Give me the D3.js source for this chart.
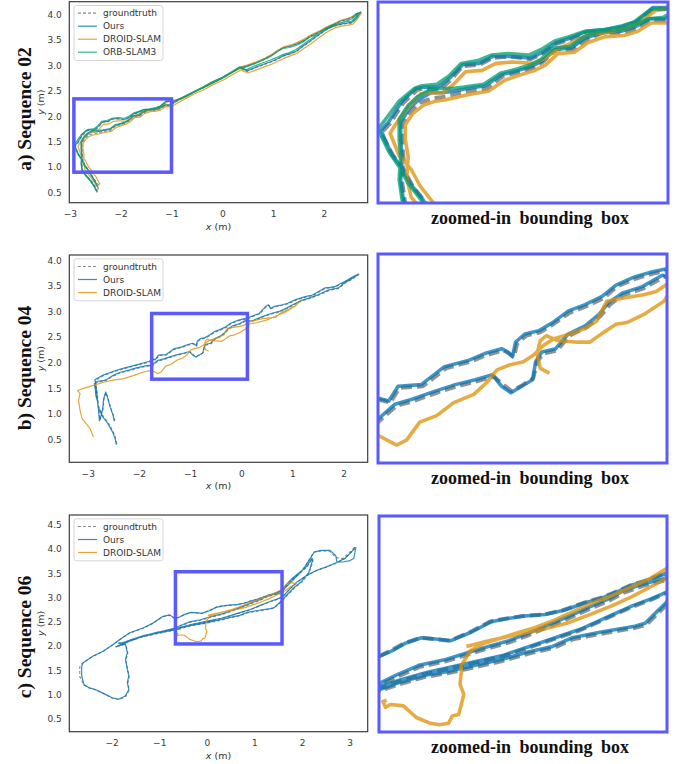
<!DOCTYPE html>
<html>
<head>
<meta charset="utf-8">
<script src="https://cdn.jsdelivr.net/npm/d3@7"></script>
<style>
  body { margin: 0; background: #fff; }
  text { font-family: "DejaVu Sans", sans-serif; }
</style>
</head>
<body>
<script>
// legend names, in plotting order
var methods = ['groundtruth', 'Ours', 'DROID-SLAM', 'ORB-SLAM3'];

// ---------- Sequence 02 ----------
var seq02_xticks = [-3, -2, -1, 0, 1, 2];
var seq02_yticks = [0.5, 1.0, 1.5, 2.0, 2.5, 3.0, 3.5, 4.0];
var seq02_box = [-2.92, -1.0, 0.9, 2.34]; // x0, x1, y0, y1

var seq02_gt = [[-2.45,0.52],[-2.50,0.62],[-2.57,0.72],[-2.66,0.82],[-2.74,0.90],[-2.76,1.05],[-2.75,1.21],[-2.76,1.35],[-2.76,1.47],[-2.70,1.56],[-2.64,1.62],[-2.56,1.65],[-2.49,1.66],[-2.41,1.68],[-2.33,1.70],[-2.20,1.72],[-2.09,1.81],[-1.98,1.84],[-1.89,1.87],[-1.83,1.91],[-1.74,2.00],[-1.63,2.00],[-1.54,2.07],[-1.43,2.12],[-1.30,2.12],[-1.21,2.15],[-1.12,2.21],[-1.02,2.21],[-0.90,2.29],[-0.70,2.40],[-0.52,2.49],[-0.38,2.55],[-0.20,2.65],[0.02,2.75],[0.20,2.86],[0.35,2.95],[0.48,2.88],[0.65,2.95],[0.81,3.01],[0.95,3.06],[1.07,3.11],[1.20,3.18],[1.33,3.22],[1.46,3.27],[1.60,3.38],[1.73,3.47],[1.88,3.58],[2.05,3.70],[2.18,3.76],[2.32,3.80],[2.45,3.82],[2.55,3.83],[2.64,3.93],[2.72,4.05],
  [2.62,4.00],[2.55,3.93],[2.42,3.89],[2.32,3.86],[2.18,3.79],[2.05,3.73],[1.90,3.65],[1.73,3.57],[1.60,3.48],[1.46,3.41],[1.33,3.37],[1.20,3.34],[1.08,3.27],[0.95,3.18],[0.81,3.11],[0.65,3.04],[0.48,2.98],[0.35,2.95],[0.18,2.85],[0.02,2.76],[-0.18,2.66],[-0.38,2.56],[-0.55,2.47],[-0.72,2.38],[-0.90,2.31],[-1.02,2.29],[-1.10,2.29],[-1.21,2.19],[-1.30,2.15],[-1.43,2.13],[-1.54,2.12],[-1.65,2.07],[-1.74,2.04],[-1.83,1.97],[-1.91,1.93],[-2.05,1.95],[-2.16,1.94],[-2.25,1.89],[-2.36,1.88],[-2.44,1.78],[-2.51,1.71],[-2.62,1.72],[-2.66,1.71],[-2.75,1.62],[-2.84,1.47],[-2.90,1.40],[-2.82,1.24],[-2.75,1.14],[-2.69,1.02],[-2.61,0.91],[-2.53,0.78],[-2.46,0.68],[-2.42,0.64]];

var seq02_ours = [[-2.46,0.50],[-2.51,0.61],[-2.58,0.72],[-2.67,0.83],[-2.75,0.91],[-2.77,1.06],[-2.76,1.22],[-2.77,1.36],[-2.77,1.48],[-2.71,1.58],[-2.65,1.64],[-2.57,1.69],[-2.50,1.69],[-2.42,1.70],[-2.33,1.72],[-2.21,1.74],[-2.10,1.82],[-1.99,1.85],[-1.90,1.88],[-1.83,1.92],[-1.75,2.00],[-1.64,2.01],[-1.55,2.08],[-1.44,2.12],[-1.31,2.13],[-1.22,2.16],[-1.12,2.22],[-1.02,2.22],[-0.90,2.30],[-0.70,2.40],[-0.52,2.50],[-0.38,2.56],[-0.20,2.66],[0.02,2.76],[0.20,2.87],[0.35,2.96],[0.49,2.89],[0.65,2.96],[0.81,3.02],[0.95,3.07],[1.07,3.12],[1.20,3.19],[1.33,3.23],[1.46,3.28],[1.60,3.39],[1.73,3.48],[1.88,3.59],[2.05,3.71],[2.18,3.77],[2.32,3.81],[2.45,3.83],[2.56,3.85],[2.65,3.94],[2.72,4.04],
  [2.63,4.01],[2.55,3.95],[2.43,3.90],[2.32,3.87],[2.18,3.80],[2.05,3.74],[1.90,3.66],[1.73,3.58],[1.60,3.49],[1.46,3.42],[1.33,3.38],[1.20,3.35],[1.08,3.28],[0.95,3.19],[0.81,3.12],[0.65,3.05],[0.48,2.99],[0.35,2.96],[0.18,2.86],[0.02,2.77],[-0.18,2.67],[-0.38,2.57],[-0.55,2.48],[-0.72,2.39],[-0.90,2.32],[-1.02,2.30],[-1.10,2.30],[-1.21,2.20],[-1.30,2.17],[-1.43,2.14],[-1.54,2.13],[-1.65,2.08],[-1.74,2.05],[-1.83,1.98],[-1.91,1.94],[-2.05,1.95],[-2.16,1.95],[-2.25,1.90],[-2.36,1.89],[-2.44,1.80],[-2.52,1.73],[-2.62,1.73],[-2.67,1.72],[-2.76,1.63],[-2.85,1.48],[-2.90,1.42],[-2.83,1.25],[-2.76,1.15],[-2.70,1.03],[-2.62,0.92],[-2.54,0.78],[-2.47,0.66],[-2.44,0.58]];

var seq02_droid = [[-2.43,0.56],[-2.48,0.65],[-2.55,0.75],[-2.63,0.85],[-2.70,0.94],[-2.73,1.08],[-2.72,1.23],[-2.74,1.36],[-2.74,1.46],[-2.69,1.54],[-2.62,1.60],[-2.54,1.63],[-2.47,1.64],[-2.39,1.66],[-2.31,1.68],[-2.19,1.70],[-2.08,1.78],[-1.97,1.82],[-1.88,1.85],[-1.81,1.89],[-1.73,1.97],[-1.62,1.98],[-1.53,2.05],[-1.42,2.09],[-1.29,2.10],[-1.20,2.13],[-1.11,2.19],[-1.00,2.19],[-0.88,2.26],[-0.68,2.37],[-0.50,2.46],[-0.36,2.52],[-0.18,2.62],[0.04,2.72],[0.22,2.83],[0.37,2.91],[0.50,2.85],[0.67,2.91],[0.83,2.97],[0.97,3.02],[1.09,3.08],[1.22,3.14],[1.35,3.19],[1.48,3.24],[1.62,3.34],[1.75,3.43],[1.90,3.54],[2.07,3.66],[2.20,3.73],[2.34,3.77],[2.47,3.79],[2.57,3.81],[2.66,3.91],[2.74,4.03],
  [2.65,3.98],[2.57,3.96],[2.45,3.92],[2.34,3.89],[2.20,3.82],[2.07,3.76],[1.92,3.68],[1.75,3.60],[1.62,3.52],[1.48,3.45],[1.35,3.40],[1.22,3.37],[1.10,3.30],[0.97,3.21],[0.83,3.14],[0.67,3.07],[0.50,3.01],[0.37,2.97],[0.20,2.87],[0.04,2.78],[-0.16,2.68],[-0.36,2.58],[-0.53,2.49],[-0.70,2.40],[-0.88,2.32],[-1.00,2.29],[-1.08,2.28],[-1.19,2.19],[-1.28,2.15],[-1.41,2.12],[-1.52,2.11],[-1.63,2.05],[-1.72,2.01],[-1.81,1.94],[-1.89,1.90],[-2.03,1.91],[-2.14,1.90],[-2.23,1.85],[-2.34,1.84],[-2.42,1.75],[-2.49,1.69],[-2.60,1.69],[-2.64,1.68],[-2.72,1.59],[-2.80,1.47],[-2.84,1.40],[-2.78,1.24],[-2.70,1.14],[-2.64,1.02],[-2.56,0.91],[-2.48,0.80],[-2.43,0.70],[-2.40,0.66]];

var seq02_orb = [[-2.48,0.53],[-2.53,0.63],[-2.60,0.73],[-2.69,0.83],[-2.76,0.92],[-2.78,1.07],[-2.77,1.22],[-2.78,1.36],[-2.78,1.50],[-2.72,1.60],[-2.66,1.66],[-2.58,1.71],[-2.51,1.72],[-2.43,1.72],[-2.35,1.73],[-2.22,1.75],[-2.11,1.83],[-2.00,1.86],[-1.91,1.89],[-1.84,1.93],[-1.76,2.01],[-1.65,2.02],[-1.56,2.09],[-1.45,2.13],[-1.32,2.14],[-1.23,2.17],[-1.13,2.22],[-1.03,2.23],[-0.91,2.31],[-0.71,2.41],[-0.53,2.50],[-0.39,2.57],[-0.21,2.67],[0.01,2.77],[0.19,2.88],[0.34,2.97],[0.47,2.91],[0.64,2.99],[0.80,3.05],[0.94,3.10],[1.06,3.15],[1.19,3.21],[1.32,3.25],[1.45,3.31],[1.59,3.41],[1.72,3.50],[1.87,3.61],[2.04,3.73],[2.17,3.79],[2.31,3.83],[2.44,3.86],[2.55,3.87],[2.63,3.95],[2.70,4.03],
  [2.62,3.98],[2.54,3.91],[2.41,3.86],[2.31,3.83],[2.17,3.77],[2.04,3.71],[1.89,3.63],[1.72,3.55],[1.59,3.46],[1.45,3.39],[1.32,3.35],[1.19,3.33],[1.07,3.26],[0.94,3.17],[0.80,3.10],[0.64,3.03],[0.47,2.97],[0.34,2.94],[0.17,2.85],[0.01,2.75],[-0.19,2.65],[-0.39,2.55],[-0.56,2.47],[-0.73,2.38],[-0.91,2.30],[-1.03,2.29],[-1.11,2.29],[-1.22,2.20],[-1.31,2.16],[-1.44,2.14],[-1.55,2.13],[-1.66,2.09],[-1.75,2.06],[-1.84,2.00],[-1.92,1.96],[-2.06,1.97],[-2.17,1.96],[-2.26,1.92],[-2.37,1.90],[-2.45,1.81],[-2.53,1.75],[-2.63,1.74],[-2.68,1.72],[-2.78,1.63],[-2.87,1.50],[-2.92,1.43],[-2.85,1.27],[-2.78,1.16],[-2.72,1.04],[-2.64,0.93],[-2.56,0.80],[-2.49,0.68],[-2.46,0.62]];

// ---------- Sequence 04 ----------
var seq04_xticks = [-3, -2, -1, 0, 1, 2];
var seq04_yticks = [0.5, 1.0, 1.5, 2.0, 2.5, 3.0, 3.5, 4.0];
var seq04_box = [-1.75, 0.12, 1.68, 2.96];

var seq04_gt = [[-2.43,0.42],[-2.46,0.55],[-2.50,0.65],[-2.56,0.76],[-2.62,0.86],[-2.70,0.96],[-2.74,1.05],[-2.79,1.15],[-2.80,1.26],[-2.83,1.36],[-2.84,1.46],[-2.86,1.58],[-2.80,1.63],[-2.69,1.64],[-2.63,1.66],[-2.50,1.74],[-2.37,1.80],[-2.17,1.85],[-2.04,1.89],[-1.91,1.92],[-1.80,1.94],[-1.75,1.93],[-1.63,2.03],[-1.52,2.06],[-1.37,2.11],[-1.24,2.15],[-1.11,2.18],[-1.00,2.21],[-0.94,2.16],[-0.885,2.12],[-0.81,2.16],[-0.745,2.20],[-0.72,2.30],[-0.68,2.35],[-0.59,2.37],[-0.51,2.46],[-0.40,2.51],[-0.31,2.58],[-0.25,2.65],[-0.16,2.71],[-0.03,2.75],[0.10,2.82],[0.20,2.80],[0.42,2.89],[0.59,2.95],[0.75,2.99],[0.90,3.06],[1.07,3.15],[1.20,3.21],[1.33,3.25],[1.52,3.32],[1.72,3.41],[1.91,3.45],[2.04,3.56],[2.16,3.62],[2.30,3.72],
  [2.18,3.66],[2.04,3.58],[1.85,3.48],[1.75,3.46],[1.65,3.45],[1.52,3.38],[1.40,3.31],[1.26,3.28],[1.07,3.22],[0.92,3.15],[0.81,3.12],[0.66,3.09],[0.58,3.05],[0.54,3.12],[0.48,3.08],[0.36,2.95],[0.22,2.90],[0.13,2.86],[0.03,2.84],[-0.08,2.81],[-0.205,2.76],[-0.29,2.69],[-0.40,2.64],[-0.51,2.60],[-0.615,2.53],[-0.70,2.48],[-0.79,2.46],[-0.85,2.41],[-0.87,2.33],[-0.90,2.35],[-0.94,2.37],[-1.05,2.34],[-1.155,2.30],[-1.31,2.26],[-1.46,2.15],[-1.61,2.14],[-1.67,2.05],[-1.75,2.07],[-1.78,2.02],[-2.04,1.95],[-2.30,1.88],[-2.50,1.82],[-2.69,1.75],[-2.85,1.66],[-2.82,1.46],[-2.80,1.27],[-2.78,1.07],[-2.76,0.88],[-2.74,0.95],[-2.70,1.10],[-2.68,1.30],[-2.64,1.42],[-2.60,1.30],[-2.55,1.12],[-2.50,0.98],[-2.47,0.87]];

var seq04_ours = [[-2.44,0.40],[-2.47,0.54],[-2.51,0.64],[-2.57,0.75],[-2.63,0.85],[-2.71,0.95],[-2.75,1.04],[-2.80,1.14],[-2.81,1.25],[-2.84,1.35],[-2.85,1.46],[-2.87,1.59],[-2.81,1.64],[-2.70,1.65],[-2.64,1.67],[-2.51,1.75],[-2.38,1.81],[-2.18,1.86],[-2.05,1.90],[-1.92,1.93],[-1.81,1.95],[-1.76,1.94],[-1.64,2.04],[-1.53,2.07],[-1.38,2.12],[-1.25,2.16],[-1.12,2.19],[-1.01,2.22],[-0.95,2.15],[-0.89,2.11],[-0.82,2.15],[-0.75,2.19],[-0.73,2.30],[-0.69,2.36],[-0.60,2.38],[-0.52,2.47],[-0.41,2.52],[-0.32,2.59],[-0.26,2.66],[-0.17,2.72],[-0.04,2.76],[0.09,2.83],[0.19,2.81],[0.41,2.90],[0.58,2.96],[0.74,3.00],[0.89,3.07],[1.06,3.16],[1.19,3.22],[1.32,3.26],[1.51,3.33],[1.71,3.42],[1.90,3.46],[2.03,3.57],[2.15,3.63],[2.29,3.73],
  [2.17,3.67],[2.03,3.59],[1.84,3.49],[1.74,3.47],[1.64,3.46],[1.51,3.39],[1.39,3.32],[1.25,3.29],[1.06,3.23],[0.91,3.16],[0.80,3.13],[0.65,3.10],[0.57,3.06],[0.53,3.13],[0.47,3.09],[0.35,2.96],[0.21,2.91],[0.12,2.87],[0.02,2.85],[-0.09,2.82],[-0.21,2.77],[-0.30,2.70],[-0.41,2.65],[-0.52,2.61],[-0.62,2.54],[-0.71,2.49],[-0.80,2.47],[-0.86,2.42],[-0.88,2.33],[-0.91,2.36],[-0.95,2.38],[-1.06,2.35],[-1.16,2.31],[-1.32,2.27],[-1.47,2.16],[-1.62,2.15],[-1.68,2.06],[-1.76,2.08],[-1.79,2.03],[-2.05,1.96],[-2.31,1.89],[-2.51,1.83],[-2.70,1.76],[-2.86,1.67],[-2.83,1.47],[-2.81,1.28],[-2.79,1.08],[-2.77,0.87],[-2.75,0.94],[-2.71,1.09],[-2.69,1.29],[-2.65,1.43],[-2.61,1.31],[-2.56,1.13],[-2.51,0.99],[-2.48,0.86]];

var seq04_droid = [[-2.89,0.55],[-2.95,0.71],[-3.05,0.84],[-3.11,0.91],[-3.15,1.07],[-3.18,1.27],[-3.15,1.40],[-3.20,1.46],[-3.05,1.51],[-2.89,1.56],[-2.69,1.62],[-2.50,1.66],[-2.30,1.69],[-2.11,1.75],[-1.91,1.82],[-1.75,1.85],[-1.63,1.79],[-1.565,1.82],[-1.48,1.93],[-1.37,1.97],[-1.26,2.05],[-1.13,2.10],[-1.05,2.17],[-0.98,2.25],[-0.90,2.28],[-0.81,2.30],[-0.745,2.34],[-0.68,2.40],[-0.615,2.44],[-0.51,2.47],[-0.42,2.50],[-0.335,2.55],[-0.27,2.67],[-0.16,2.69],[-0.03,2.71],[0.05,2.73],[0.16,2.80],[0.42,2.86],[0.68,2.89],[0.75,2.96],[0.88,3.02],[1.07,3.12],[1.17,3.22],
  [1.05,3.10],[0.85,2.98],[0.70,2.92],[0.49,2.83],[0.30,2.78],[0.16,2.76],[0.10,2.67],[-0.03,2.59],[-0.14,2.54],[-0.21,2.53],[-0.29,2.48],[-0.38,2.42],[-0.46,2.42],[-0.59,2.43],[-0.66,2.46],[-0.70,2.43],[-0.72,2.35],[-0.70,2.26],[-0.64,2.23]];

// ---------- Sequence 06 ----------
var seq06_xticks = [-2, -1, 0, 1, 2, 3];
var seq06_yticks = [0.5, 1.0, 1.5, 2.0, 2.5, 3.0, 3.5, 4.0, 4.5];
var seq06_box = [-0.66, 1.58, 2.04, 3.53];

var seq06_gt = [[-1.91,1.97],[-1.80,2.02],[-1.60,2.10],[-1.40,2.17],[-1.20,2.23],[-1.00,2.28],[-0.80,2.30],[-0.665,2.32],[-0.50,2.37],[-0.30,2.42],[-0.10,2.45],[0.10,2.49],[0.30,2.53],[0.50,2.58],[0.70,2.62],[0.85,2.68],[1.08,2.72],[1.34,2.76],[1.42,2.78],[1.50,2.85],[1.58,2.92],[1.70,3.05],[1.85,3.20],[2.00,3.32],[2.15,3.50],[2.23,3.75],[2.22,3.80],[2.10,3.62],[1.95,3.50],[1.80,3.38],[1.65,3.22],[1.58,3.09],[1.40,3.05],[1.24,3.00],[1.14,2.95],[0.98,2.89],[0.83,2.83],[0.67,2.77],[0.51,2.71],[0.36,2.66],[0.20,2.62],[0.05,2.58],[-0.13,2.53],[-0.34,2.49],[-0.52,2.42],[-0.665,2.36],[-0.85,2.31],[-1.05,2.26],[-1.30,2.21],[-1.55,2.13],[-1.75,2.06],[-1.85,2.05],[-1.70,2.02],[-1.66,1.85],[-1.70,1.71],[-1.66,1.50],[-1.63,1.37],[-1.66,1.23],[-1.63,1.09],[-1.70,0.96],[-1.84,0.89],[-1.98,0.92],[-2.12,0.99],[-2.33,1.09],[-2.47,1.13],[-2.58,1.19],[-2.67,1.37],[-2.67,1.57],[-2.62,1.64],[-2.40,1.78],[-2.19,1.88],[-1.98,2.02],[-1.84,2.12],[-1.63,2.26],[-1.35,2.36],[-1.14,2.46],[-0.93,2.60],[-0.79,2.63],[-0.665,2.56],[-0.57,2.60],[-0.47,2.65],[-0.34,2.69],[-0.21,2.68],[-0.11,2.67],[0.05,2.73],[0.20,2.80],[0.31,2.82],[0.46,2.84],[0.62,2.85],[0.77,2.88],[0.93,2.93],[1.08,2.97],[1.19,3.01],[1.29,3.05],[1.40,3.08],[1.58,3.14],[1.70,3.25],[1.85,3.40],[2.00,3.55],[2.10,3.70],[2.25,3.93],[2.40,3.96],[2.58,3.95],[2.72,3.82],[2.85,3.80],[3.00,3.93],[3.12,4.05],[3.05,3.95],[2.90,3.80],[2.70,3.70],[2.50,3.62],[2.30,3.55],[2.10,3.45],[1.90,3.32],[1.75,3.18],[1.58,3.00],[1.45,2.95],[1.30,2.90],[1.10,2.82],[0.90,2.74],[0.70,2.68],[0.50,2.62],[0.30,2.56],[0.10,2.52],[-0.10,2.48],[-0.30,2.44],[-0.50,2.39],[-0.665,2.34],[-0.85,2.29],[-1.10,2.24],[-1.40,2.17],[-1.65,2.08],[-1.80,2.00],[-1.88,1.99]];

var seq06_ours = [[-1.92,1.98],[-1.81,2.03],[-1.61,2.11],[-1.41,2.18],[-1.21,2.24],[-1.01,2.29],[-0.81,2.31],[-0.665,2.33],[-0.51,2.38],[-0.31,2.43],[-0.11,2.46],[0.09,2.50],[0.29,2.54],[0.49,2.59],[0.69,2.63],[0.84,2.69],[1.07,2.73],[1.33,2.77],[1.41,2.79],[1.49,2.86],[1.57,2.93],[1.69,3.06],[1.84,3.21],[1.99,3.33],[2.14,3.51],[2.22,3.76],[2.21,3.81],[2.09,3.63],[1.94,3.51],[1.79,3.39],[1.64,3.23],[1.57,3.10],[1.39,3.06],[1.23,3.01],[1.13,2.96],[0.97,2.90],[0.82,2.84],[0.66,2.78],[0.50,2.72],[0.35,2.67],[0.19,2.63],[0.04,2.59],[-0.14,2.54],[-0.35,2.50],[-0.53,2.43],[-0.67,2.37],[-0.86,2.32],[-1.06,2.27],[-1.31,2.22],[-1.56,2.14],[-1.76,2.07],[-1.86,2.06],[-1.71,2.03],[-1.67,1.86],[-1.71,1.72],[-1.67,1.51],[-1.64,1.38],[-1.67,1.24],[-1.64,1.10],[-1.71,0.97],[-1.85,0.90],[-1.99,0.93],[-2.13,1.00],[-2.34,1.10],[-2.48,1.14],[-2.58,1.20],[-2.63,1.38],[-2.63,1.58],[-2.60,1.65],[-2.39,1.79],[-2.18,1.89],[-1.97,2.03],[-1.83,2.13],[-1.62,2.27],[-1.34,2.37],[-1.13,2.47],[-0.92,2.61],[-0.78,2.64],[-0.665,2.56],[-0.56,2.60],[-0.46,2.65],[-0.33,2.69],[-0.20,2.68],[-0.10,2.67],[0.06,2.73],[0.21,2.80],[0.32,2.82],[0.47,2.84],[0.63,2.85],[0.78,2.88],[0.94,2.93],[1.09,2.97],[1.20,3.01],[1.30,3.05],[1.41,3.08],[1.59,3.14],[1.71,3.26],[1.86,3.41],[2.01,3.56],[2.11,3.71],[2.26,3.94],[2.41,3.97],[2.59,3.97],[2.71,3.86],[2.73,3.74],[2.86,3.73],[3.01,3.76],[3.09,3.81],[3.13,4.03],[3.06,3.96],[2.91,3.81],[2.71,3.71],[2.51,3.63],[2.31,3.56],[2.11,3.46],[1.91,3.33],[1.76,3.19],[1.59,3.01],[1.46,2.96],[1.31,2.91],[1.11,2.83],[0.91,2.75],[0.71,2.69],[0.51,2.63],[0.31,2.57],[0.11,2.53],[-0.09,2.49],[-0.29,2.45],[-0.49,2.40],[-0.665,2.35],[-0.86,2.30],[-1.11,2.25],[-1.41,2.18],[-1.66,2.09],[-1.81,2.01],[-1.89,2.00]];

var seq06_droid = [[-0.60,2.26],[-0.63,2.25],[-0.61,2.21],[-0.57,2.23],[-0.47,2.22],[-0.37,2.14],[-0.26,2.10],[-0.19,2.09],[-0.12,2.10],[-0.09,2.15],[-0.04,2.16],[-0.02,2.23],[0.00,2.30],[-0.03,2.37],[-0.02,2.45],[-0.02,2.50],[0.05,2.60],[0.15,2.65],[0.26,2.68],[0.40,2.72],[0.55,2.76],[0.70,2.81],[0.85,2.87],[1.00,2.93],[1.15,2.98],[1.30,3.04],[1.45,3.10],[1.58,3.17],[1.68,3.28],[1.76,3.31],[1.88,3.28],[1.76,3.22],[1.62,3.12],[1.45,3.04],[1.30,2.97],[1.15,2.91],[0.98,2.85],[0.80,2.79],[0.62,2.75],[0.45,2.72],[0.30,2.69],[0.15,2.66],[0.02,2.63]];

var colors = {
  'groundtruth': '#7f7f7f',
  'Ours': '#0173b2',
  'DROID-SLAM': '#de8f05',
  'ORB-SLAM3': '#029e73'
};
var boxColor = 'rgb(90,90,255)';

var panels = [
  { label: 'a) Sequence 02', names: methods,
    series: [seq02_gt, seq02_ours, seq02_droid, seq02_orb],
    xDomain: [-3.01, 2.86], yDomain: [0.3, 4.25], xTicks: seq02_xticks, yTicks: seq02_yticks, box: seq02_box,
    top: 1.7, bottom: 202.7, zoom: [378, 668, 2, 203], captionY: 218, labelY: 109 },
  { label: 'b) Sequence 04', names: methods.slice(0, 3),
    series: [seq04_gt, seq04_ours, seq04_droid],
    xDomain: [-3.36, 2.47], yDomain: [0.06, 4.1], xTicks: seq04_xticks, yTicks: seq04_yticks, box: seq04_box,
    top: 255, bottom: 462.3, zoom: [378, 667, 254, 463], captionY: 478, labelY: 368 },
  { label: 'c) Sequence 06', names: methods.slice(0, 3),
    series: [seq06_gt, seq06_ours, seq06_droid],
    xDomain: [-2.89, 3.38], yDomain: [0.23, 4.7], xTicks: seq06_xticks, yTicks: seq06_yticks, box: seq06_box,
    top: 515, bottom: 731.7, zoom: [379, 667, 516, 732], captionY: 747, labelY: 637 }
];

var svg = d3.select('body').append('svg')
  .attr('width', 683)
  .attr('height', 764);

var left = 69.3, right = 367.7;

panels.forEach(function(p, i) {
  var x = d3.scaleLinear().domain(p.xDomain).range([left, right]);
  var y = d3.scaleLinear().domain(p.yDomain).range([p.bottom, p.top]);

  // clip for the main axes
  svg.append('clipPath').attr('id', 'clipL' + i)
    .append('rect').attr('x', left).attr('y', p.top)
    .attr('width', right - left).attr('height', p.bottom - p.top);

  var g = svg.append('g');

  // tick labels, no tick marks (seaborn white)
  var xAxis = g.append('g')
    .attr('transform', 'translate(0,' + p.bottom + ')')
    .call(d3.axisBottom(x).tickValues(p.xTicks).tickSize(0).tickPadding(8).tickFormat(d3.format('d')));
  var yAxis = g.append('g')
    .attr('transform', 'translate(' + left + ',0)')
    .call(d3.axisLeft(y).tickValues(p.yTicks).tickSize(0).tickPadding(7.5).tickFormat(d3.format('.1f')));
  [xAxis, yAxis].forEach(function(a) {
    a.select('.domain').remove();
    a.selectAll('text')
      .style('font-family', '"DejaVu Sans", sans-serif')
      .style('font-size', '9px')
      .attr('fill', '#3a3a3a');
  });

  // trajectories
  var line = d3.line().x(function(d) { return x(d[0]); }).y(function(d) { return y(d[1]); });
  var lines = g.append('g').attr('clip-path', 'url(#clipL' + i + ')');
  p.series.forEach(function(s, k) {
    var name = p.names[k];
    lines.append('path')
      .attr('d', line(s))
      .attr('fill', 'none')
      .attr('stroke', colors[name])
      .attr('stroke-width', name === 'groundtruth' ? 1.1 : 1.2)
      .attr('stroke-opacity', name === 'groundtruth' ? 0.9 : 0.8)
      .attr('stroke-dasharray', name === 'groundtruth' ? '3,2' : null)
      .attr('stroke-linejoin', 'round');
  });

  // bounding box
  g.append('rect')
    .attr('x', x(p.box[0])).attr('y', y(p.box[3]))
    .attr('width', x(p.box[1]) - x(p.box[0]))
    .attr('height', y(p.box[2]) - y(p.box[3]))
    .attr('fill', 'none').attr('stroke', boxColor).attr('stroke-width', 3.5);

  // frame
  g.append('rect')
    .attr('x', left).attr('y', p.top)
    .attr('width', right - left).attr('height', p.bottom - p.top)
    .attr('fill', 'none').attr('stroke', '#3c3c3c').attr('stroke-width', 1.2);

  // legend
  var lg = g.append('g');
  lg.append('rect')
    .attr('x', 74).attr('y', p.top + 3.8)
    .attr('width', 89).attr('height', 13 * p.names.length + 3)
    .attr('rx', 2.5)
    .attr('fill', '#fff').attr('fill-opacity', 0.8)
    .attr('stroke', '#cccccc').attr('stroke-width', 0.8);
  p.names.forEach(function(name, k) {
    var ly = p.top + 11.5 + 13 * k;
    lg.append('line')
      .attr('x1', 78).attr('x2', 97).attr('y1', ly).attr('y2', ly)
      .attr('stroke', colors[name])
      .attr('stroke-opacity', name === 'groundtruth' ? 0.9 : 0.8)
      .attr('stroke-width', 1.2)
      .attr('stroke-dasharray', name === 'groundtruth' ? '3,2' : null);
    lg.append('text')
      .attr('x', 103).attr('y', ly)
      .attr('dominant-baseline', 'central')
      .style('font-size', '9px')
      .attr('fill', '#333')
      .text(name);
  });

  // axis labels
  var xl = g.append('text')
    .attr('x', (left + right) / 2).attr('y', p.bottom + 23)
    .attr('text-anchor', 'middle').attr('dominant-baseline', 'central')
    .style('font-size', '9.5px').attr('fill', '#333');
  xl.append('tspan').style('font-style', 'italic').text('x');
  xl.append('tspan').text(' (m)');
  var yl = g.append('text')
    .attr('transform', 'translate(40,' + ((p.top + p.bottom) / 2) + ') rotate(-90)')
    .attr('text-anchor', 'middle').attr('dominant-baseline', 'central')
    .style('font-size', '9.5px').attr('fill', '#333');
  yl.append('tspan').style('font-style', 'italic').text('y');
  yl.append('tspan').text(' (m)');

  // row label
  g.append('text')
    .attr('transform', 'translate(24.5,' + p.labelY + ') rotate(-90)')
    .attr('text-anchor', 'middle').attr('dominant-baseline', 'central')
    .style('font-family', '"Liberation Serif", serif')
    .style('font-weight', 'bold')
    .style('font-size', '19.5px')
    .attr('fill', '#111')
    .text(p.label);

  // zoomed-in panel: same data, scales set to the bounding box
  var z = p.zoom;
  var zx = d3.scaleLinear().domain([p.box[0], p.box[1]]).range([z[0], z[1]]);
  var zy = d3.scaleLinear().domain([p.box[2], p.box[3]]).range([z[3], z[2]]);
  svg.append('clipPath').attr('id', 'clipZ' + i)
    .append('rect').attr('x', z[0]).attr('y', z[2])
    .attr('width', z[1] - z[0]).attr('height', z[3] - z[2]);
  var zline = d3.line().x(function(d) { return zx(d[0]); }).y(function(d) { return zy(d[1]); });
  var zg = svg.append('g').attr('clip-path', 'url(#clipZ' + i + ')');
  p.series.forEach(function(s, k) {
    var name = p.names[k];
    zg.append('path')
      .attr('d', zline(s))
      .attr('fill', 'none')
      .attr('stroke', colors[name])
      .attr('stroke-width', name === 'groundtruth' ? 4 : 3.6)
      .attr('stroke-opacity', name === 'groundtruth' ? 0.85 : 0.75)
      .attr('stroke-dasharray', name === 'groundtruth' ? '11,5' : null)
      .attr('stroke-linejoin', 'round');
  });
  svg.append('rect')
    .attr('x', z[0]).attr('y', z[2])
    .attr('width', z[1] - z[0]).attr('height', z[3] - z[2])
    .attr('fill', 'none').attr('stroke', boxColor).attr('stroke-width', 3);

  svg.append('text')
    .attr('x', 530).attr('y', p.captionY)
    .attr('text-anchor', 'middle').attr('dominant-baseline', 'central')
    .style('font-family', '"Liberation Serif", serif')
    .style('font-weight', 'bold')
    .style('font-size', '18px')
    .style('word-spacing', '4px')
    .attr('fill', '#111')
    .text('zoomed-in bounding box');
});
</script>
</body>
</html>
